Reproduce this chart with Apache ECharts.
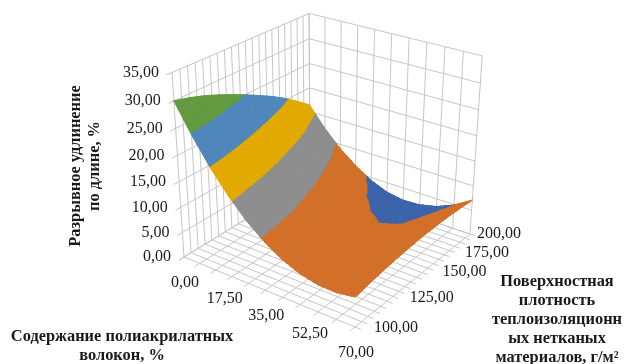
<!DOCTYPE html>
<html>
<head>
<meta charset="utf-8">
<title>Разрывное удлинение</title>
<style>
	html,body{margin:0;padding:0;background:#fff;}
	#chart{width:624px;height:364px;}
</style>
<script src="https://cdn.jsdelivr.net/npm/echarts@6/dist/echarts.min.js"></script>
</head>
<body>
<div id="chart"></div>
<script>
// x - содержание волокон, y - поверхностная плотность, z - удлинение
var xValues=[0,7,14,21,28,35,42,49,56,63,70];
var yValues=[100,110,120,130,140,150,160,170,180,190,200];
// one row per y value, one column per x value
var zRows=[
	[30.00,24.56,19.80,15.70,12.26,9.50,7.40,5.98,5.22,5.12,5.70],
	[29.30,23.85,19.13,15.17,11.89,9.27,7.32,6.03,5.42,5.47,6.19],
	[28.40,23.06,18.38,14.57,11.43,8.95,7.15,6.01,5.54,5.74,6.60],
	[27.30,22.09,17.56,13.89,10.89,8.56,6.90,5.91,5.59,5.93,6.94],
	[26.10,21.04,16.65,13.13,10.28,8.05,6.55,5.73,5.55,6.04,7.20],
	[24.80,19.91,15.67,12.30,9.55,7.45,6.10,5.45,5.44,6.07,7.38],
	[23.40,18.71,14.61,11.35,8.70,6.78,5.58,5.10,5.22,6.03,7.48],
	[21.95,17.43,13.48,10.30,7.80,5.98,4.98,4.66,4.96,5.91,7.50],
	[20.30,15.90,12.19,9.15,6.80,5.08,4.28,4.10,4.55,5.68,7.44],
	[18.40,14.18,10.72,7.90,5.65,4.15,3.42,3.40,4.04,5.35,7.31],
	[16.40,12.40,9.10,6.50,4.40,3.00,2.40,2.60,3.40,4.90,7.10]
];
var xTickLabels=['0,00','17,50','35,00','52,50','70,00'];
var yTickLabels=['100,00','125,00','150,00','175,00','200,00'];
var zTickLabels=['0,00','5,00','10,00','15,00','20,00','25,00','30,00','35,00'];
var bandEdges=[0,5,10,15,20,25,30,35];
var bandColors=['#3c64ab','#d2702a','#8e8e8e','#e2a900','#4f87bc','#629b3f','#a5a5a5'];

var xMax=70,xMin=0,yMin=100,yMax=200,zMax=35;
var xDivisions=10,yDivisions=20,zDivisions=7;
var cellSteps=4; //деление ячейки при заливке

// перспектива: углы коробки на картинке и веса глубины
var boxO=[184,257],boxU=[355,327],boxV=[310,180],boxT=[172,72.5];
var wu=0.907,wv=1.136,wh=0.92;

function project(u,v,h){
	var d=1+u*(wu-1)+v*(wv-1)+h*(wh-1);
	var px=boxO[0]+u*(wu*boxU[0]-boxO[0])+v*(wv*boxV[0]-boxO[0])+h*(wh*boxT[0]-boxO[0]);
	var py=boxO[1]+u*(wu*boxU[1]-boxO[1])+v*(wv*boxV[1]-boxO[1])+h*(wh*boxT[1]-boxO[1]);
	return [px/d,py/d];
}

// отрезки стенок, пола и рисок
var frameLines=[];
function addLine(a,b){frameLines.push([a[0],a[1],a[2],b[0],b[1],b[2]]);}
var i;
for(i=0;i<=xDivisions;i++){
	var u=i/xDivisions;
	addLine([u,-0.035,0],[u,1,0]);
	addLine([u,1,0],[u,1,1]);
}
for(i=0;i<=yDivisions;i++){
	var v=i/yDivisions;
	addLine([0,v,0],[1.03,v,0]);
	addLine([0,v,0],[0,v,1]);
}
for(i=0;i<=zDivisions;i++){
	var h=i/zDivisions;
	addLine([0,-0.035,h],[0,1,h]);
	addLine([0,1,h],[1,1,h]);
}

// подписи: значение -> положение через ту же проекцию
var labelItems=[];
zTickLabels.forEach(function(t,k){
	var p=project(0,0,k/(zTickLabels.length-1));
	labelItems.push([t,p[0]-13,p[1],'right']);
});
xTickLabels.forEach(function(t,k){
	var p=project(k/(xTickLabels.length-1),0,0);
	labelItems.push([t,p[0]+1,p[1]+26,'center']);
});
var yLabelDx=[19,23,26,21,7],yLabelDy=[1,-3,-5,-2,0];
yTickLabels.forEach(function(t,k){
	var p=project(1,k/(yTickLabels.length-1),0);
	labelItems.push([t,p[0]+yLabelDx[k],p[1]+yLabelDy[k],'left']);
});

// ячейки: дальние рисуются первыми
var cells=[];
for(var ix=0;ix<xValues.length-1;ix++){
	for(var iy=yValues.length-2;iy>=0;iy--){
		cells.push([ix,iy]);
	}
}

function clipZ(poly,limit,keepBelow){
	var out=[];
	for(var n=0;n<poly.length;n++){
		var a=poly[n],b=poly[(n+1)%poly.length];
		var ina=keepBelow?a[2]<=limit:a[2]>=limit;
		var inb=keepBelow?b[2]<=limit:b[2]>=limit;
		if(ina) out.push(a);
		if(ina!==inb){
			var t=(limit-a[2])/(b[2]-a[2]);
			out.push([a[0]+(b[0]-a[0])*t,a[1]+(b[1]-a[1])*t,limit]);
		}
	}
	return out;
}

function corner(ix,iy){
	return [(xValues[ix]-xMin)/(xMax-xMin),(yValues[iy]-yMin)/(yMax-yMin),zRows[iy][ix]];
}

// точка внутри ячейки по четырём углам
function cellPoint(a,b,c,d,m,n){
	var fu=m/cellSteps,fv=n/cellSteps;
	return [
		a[0]+(b[0]-a[0])*fu,
		a[1]+(d[1]-a[1])*fv,
		a[2]*(1-fu)*(1-fv)+b[2]*fu*(1-fv)+c[2]*fu*fv+d[2]*(1-fu)*fv
	];
}

function renderCell(params,api){
	var ix=api.value(0),iy=api.value(1);
	var a=corner(ix,iy),b=corner(ix+1,iy),c=corner(ix+1,iy+1),d=corner(ix,iy+1);
	var children=[];
	function fillTriangle(tri){
		for(var k=0;k<bandColors.length;k++){
			var poly=clipZ(clipZ(tri,bandEdges[k],false),bandEdges[k+1],true);
			if(poly.length<3) continue;
			var pts=poly.map(function(p){
				return api.coord(project(p[0],p[1],p[2]/zMax));
			});
			children.push({
				type:'polygon',
				shape:{points:pts},
				style:{fill:bandColors[k],stroke:bandColors[k],lineWidth:1}
			});
		}
	}
	for(var m=0;m<cellSteps;m++){
		for(var n=cellSteps-1;n>=0;n--){
			var p00=cellPoint(a,b,c,d,m,n),p10=cellPoint(a,b,c,d,m+1,n);
			var p11=cellPoint(a,b,c,d,m+1,n+1),p01=cellPoint(a,b,c,d,m,n+1);
			fillTriangle([p00,p01,p11]);
			fillTriangle([p00,p11,p10]);
		}
	}
	return {type:'group',children:children};
}

function renderFrame(params,api){
	var a=project(api.value(0),api.value(1),api.value(2));
	var b=project(api.value(3),api.value(4),api.value(5));
	var p1=api.coord(a),p2=api.coord(b);
	return {
		type:'line',
		shape:{x1:p1[0],y1:p1[1],x2:p2[0],y2:p2[1]},
		style:{stroke:'#c6c6c6',lineWidth:1}
	};
}

function renderLabel(params,api){
	var item=labelItems[params.dataIndex];
	var p=api.coord([item[1],item[2]]);
	return {
		type:'text',
		x:p[0],y:p[1],
		style:{
			text:item[0],
			font:'16px "Liberation Serif"',
			fill:'#1a1a1a',
			textAlign:item[3],
			textVerticalAlign:'middle'
		}
	};
}

function titleText(text,x,y,rot){
	return {
		type:'text',
		x:x,y:y,
		rotation:rot||0,
		style:{
			text:text,
			font:'bold 16.4px "Liberation Serif"',
			fill:'#1a1a1a',
			textAlign:'center',
			textVerticalAlign:'middle'
		}
	};
}

var myChart=echarts.init(document.getElementById('chart'));
myChart.setOption({
	animation:false,
	backgroundColor:'#fff',
	grid:{left:0,top:0,width:624,height:364},
	xAxis:{type:'value',min:0,max:624,show:false},
	yAxis:{type:'value',min:0,max:364,inverse:true,show:false},
	series:[
		{type:'custom',coordinateSystem:'cartesian2d',clip:false,silent:true,renderItem:renderFrame,data:frameLines},
		{type:'custom',coordinateSystem:'cartesian2d',clip:false,silent:true,renderItem:renderCell,data:cells},
		{type:'custom',coordinateSystem:'cartesian2d',clip:false,silent:true,renderItem:renderLabel,
			data:labelItems.map(function(d,k){return [k];})}
	],
	graphic:[
		titleText('Разрывное удлинение',76,166,Math.PI/2),
		titleText('по длине, %',95,166,Math.PI/2),
		titleText('Содержание полиакрилатных',122,337),
		titleText('волокон, %',122,356),
		titleText('Поверхностная',557,282),
		titleText('плотность',557,301),
		titleText('теплоизоляционн',557,320),
		titleText('ых нетканых',557,339),
		titleText('материалов, г/м²',557,358)
	]
});
</script>
</body>
</html>
